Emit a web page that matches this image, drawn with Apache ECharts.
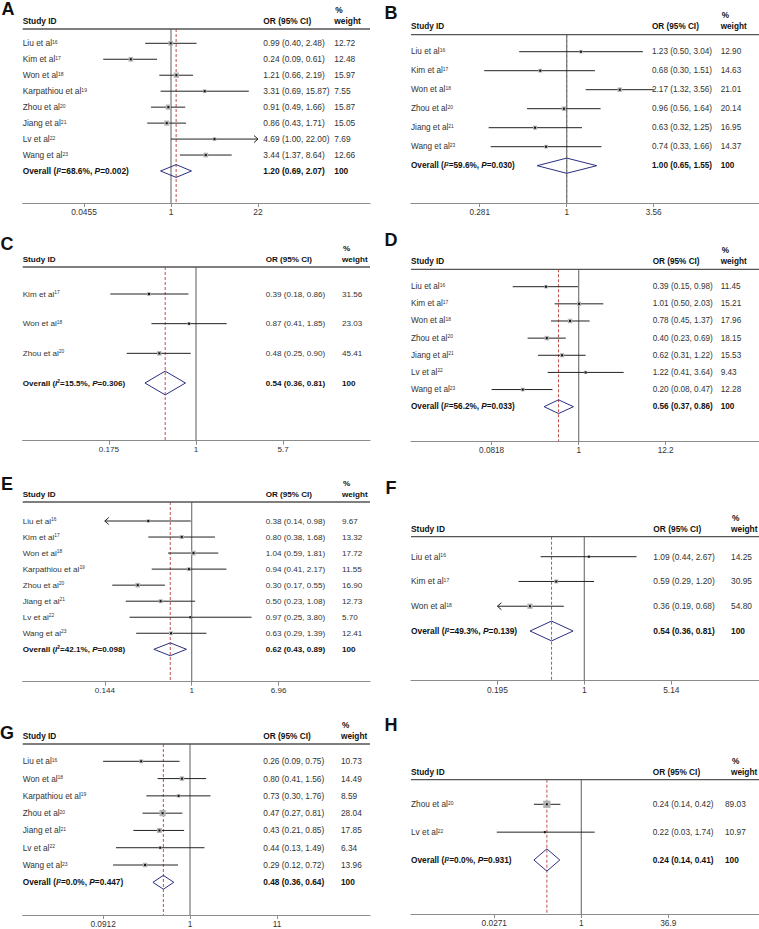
<!DOCTYPE html>
<html><head><meta charset="utf-8">
<script src="https://cdn.jsdelivr.net/npm/echarts@6/dist/echarts.min.js"></script>
<style>html,body{margin:0;padding:0;background:#fff}#c{width:759px;height:929px}</style>
</head><body><div id="c"></div>
<script>
// ---------- DATA ----------
const studyNames = ['Liu et al','Kim et al','Won et al','Karpathiou et al','Zhou et al','Jiang et al','Lv et al','Wang et al'];
const studyRefs = ['16','17','18','19','20','21','22','23'];

// Panel A
const aStudies = [0,1,2,3,4,5,6,7];
const aOR   = [0.99,0.24,1.21,3.31,0.91,0.86,4.69,3.44];
const aLow  = [0.40,0.09,0.66,0.69,0.49,0.43,1.00,1.37];
const aHigh = [2.48,0.61,2.19,15.87,1.66,1.71,22.00,8.64];
const aWeight = [12.72,12.48,15.97,7.55,15.87,15.05,7.69,12.66];
const aOverall = [1.20,0.69,2.07];
const aHet = ['68.6%','0.002'];
const aTicks = [0.0455,1,22];
const aArrows = [[6,'R']];

// Panel B
const bStudies = [0,1,2,4,5,7];
const bOR   = [1.23,0.68,2.17,0.96,0.63,0.74];
const bLow  = [0.50,0.30,1.32,0.56,0.32,0.33];
const bHigh = [3.04,1.51,3.56,1.64,1.25,1.66];
const bWeight = [12.90,14.63,21.01,20.14,16.95,14.37];
const bOverall = [1.00,0.65,1.55];
const bHet = ['59.6%','0.030'];
const bTicks = [0.281,1,3.56];
const bArrows = [];

// Panel C
const cStudies = [1,2,4];
const cOR   = [0.39,0.87,0.48];
const cLow  = [0.18,0.41,0.25];
const cHigh = [0.86,1.85,0.90];
const cWeight = [31.56,23.03,45.41];
const cOverall = [0.54,0.36,0.81];
const cHet = ['15.5%','0.306'];
const cTicks = [0.175,1,5.7];
const cArrows = [];

// Panel D
const dStudies = [0,1,2,4,5,6,7];
const dOR   = [0.39,1.01,0.78,0.40,0.62,1.22,0.20];
const dLow  = [0.15,0.50,0.45,0.23,0.31,0.41,0.08];
const dHigh = [0.98,2.03,1.37,0.69,1.22,3.64,0.47];
const dWeight = [11.45,15.21,17.96,18.15,15.53,9.43,12.28];
const dOverall = [0.56,0.37,0.86];
const dHet = ['56.2%','0.033'];
const dTicks = [0.0818,1,12.2];
const dArrows = [];

// Panel E
const eStudies = [0,1,2,3,4,5,6,7];
const eOR   = [0.38,0.80,1.04,0.94,0.30,0.50,0.97,0.63];
const eLow  = [0.14,0.38,0.59,0.41,0.17,0.23,0.25,0.29];
const eHigh = [0.98,1.68,1.81,2.17,0.55,1.08,3.80,1.39];
const eWeight = [9.67,13.32,17.72,11.55,16.90,12.73,5.70,12.41];
const eOverall = [0.62,0.43,0.89];
const eHet = ['42.1%','0.098'];
const eTicks = [0.144,1,6.96];
const eArrows = [[0,'L']];

// Panel F
const fStudies = [0,1,2];
const fOR   = [1.09,0.59,0.36];
const fLow  = [0.44,0.29,0.19];
const fHigh = [2.67,1.20,0.68];
const fWeight = [14.25,30.95,54.80];
const fOverall = [0.54,0.36,0.81];
const fHet = ['49.3%','0.139'];
const fTicks = [0.195,1,5.14];
const fArrows = [[2,'L']];

// Panel G
const gStudies = [0,2,3,4,5,6,7];
const gOR   = [0.26,0.80,0.73,0.47,0.43,0.44,0.29];
const gLow  = [0.09,0.41,0.30,0.27,0.21,0.13,0.12];
const gHigh = [0.75,1.56,1.76,0.81,0.85,1.49,0.72];
const gWeight = [10.73,14.49,8.59,28.04,17.85,6.34,13.96];
const gOverall = [0.48,0.36,0.64];
const gHet = ['0.0%','0.447'];
const gTicks = [0.0912,1,11];
const gArrows = [];

// Panel H
const hStudies = [4,6];
const hOR   = [0.24,0.22];
const hLow  = [0.14,0.03];
const hHigh = [0.42,1.74];
const hWeight = [89.03,10.97];
const hOverall = [0.24,0.14,0.41];
const hHet = ['0.0%','0.931'];
const hTicks = [0.0271,1,36.9];
const hArrows = [];

const panelLetters = ['A','B','C','D','E','F','G','H'];

// ---------- LAYOUT (pixels) ----------
// [headerLineY, firstRowY, overallRowY, axisY]
const layoutY = [[29,43.3,171,203],[34.7,51.7,165.7,203],[267,294,383,440.7],[269.3,286.7,406.7,441],
                 [502,521,649.3,681.7],[536.7,556.7,631,680.7],[744,761.3,882.3,915],[779.7,804.3,860,914]];
// [left, right, x of OR=1, OR column x, weight column x, weight header x]
const layoutX = [[22.7,370,171,263.3,334.3,334.3],[411,759,566.7,652,720.7,720.7],
                 [22.7,370,196,265.7,342,342],[411,759,578.7,652.7,720.7,720.7],
                 [22.7,370,191.7,265.7,342,342],[411,759,584.3,653.3,731,731],
                 [22.7,370,190,263.3,341,341],[411,759,581.3,652.7,725,731]];
const fontSizes = [8.4,8.2,8.1,8.2,8.1,8.4,8.3,8.3];
const boxMax = [5.3,4.5,4.5,4.5,4.7,5.3,6.3,7.3];
const letterPos = [[8,9],[391,12.5],[7,244],[391,240],[7,484],[391,488],[7,733],[391,725]];
const TICK_HALF = 87;

const FONT = '"Liberation Sans", Arial, Helvetica, sans-serif';
const TXT = '#333';

const panels = [
  {studies:aStudies, or:aOR, low:aLow, high:aHigh, w:aWeight, ov:aOverall, het:aHet, ticks:aTicks, arrows:aArrows},
  {studies:bStudies, or:bOR, low:bLow, high:bHigh, w:bWeight, ov:bOverall, het:bHet, ticks:bTicks, arrows:bArrows},
  {studies:cStudies, or:cOR, low:cLow, high:cHigh, w:cWeight, ov:cOverall, het:cHet, ticks:cTicks, arrows:cArrows},
  {studies:dStudies, or:dOR, low:dLow, high:dHigh, w:dWeight, ov:dOverall, het:dHet, ticks:dTicks, arrows:dArrows},
  {studies:eStudies, or:eOR, low:eLow, high:eHigh, w:eWeight, ov:eOverall, het:eHet, ticks:eTicks, arrows:eArrows},
  {studies:fStudies, or:fOR, low:fLow, high:fHigh, w:fWeight, ov:fOverall, het:fHet, ticks:fTicks, arrows:fArrows},
  {studies:gStudies, or:gOR, low:gLow, high:gHigh, w:gWeight, ov:gOverall, het:gHet, ticks:gTicks, arrows:gArrows},
  {studies:hStudies, or:hOR, low:hLow, high:hHigh, w:hWeight, ov:hOverall, het:hHet, ticks:hTicks, arrows:hArrows}
];

const L10 = Math.log10;
const f2 = v => v.toFixed(2);

const grids = [], xAxes = [], yAxes = [], series = [], graphics = [];

panels.forEach((p, k) => {
  const [hY, fY, oY, aY] = layoutY[k];
  const [left, right, x1, orX, wX, wHX] = layoutX[k];
  const fs = fontSizes[k];
  const N = p.studies.length;
  const step = (oY - fY) / N;
  const yMin = 1 - (fY - hY) / step;
  const yMax = N + 1 + (aY - oY) / step;
  const tMin = L10(p.ticks[0]), tMax = L10(p.ticks[2]);
  const ppd = TICK_HALF / tMax;
  const xMin = (left - x1) / ppd, xMax = (right - x1) / ppd;
  const wMax = Math.max(...p.w);
  const tickVals = p.ticks.map(L10);

  grids.push({left: left, top: hY, width: right - left, height: aY - hY, containLabel: false});
  xAxes.push({
    gridIndex: k, type: 'value', min: xMin, max: xMax,
    axisLine: {onZero: false, lineStyle: {color: '#8c8c8c', width: 1.2}},
    axisTick: {customValues: tickVals, length: 4, lineStyle: {color: '#8c8c8c', width: 1}},
    axisLabel: {customValues: tickVals, fontSize: fs, fontFamily: FONT, color: TXT, margin: 5,
      formatter: v => { let bi = 0; tickVals.forEach((t, i) => { if (Math.abs(t - v) < Math.abs(tickVals[bi] - v)) bi = i; }); return String(p.ticks[bi]); }},
    splitLine: {show: false}
  });
  yAxes.push({gridIndex: k, type: 'value', inverse: true, min: yMin, max: yMax, show: false,
    axisLine: {onZero: false}, splitLine: {show: false}});

  const richBase = {
    n: {fontSize: fs, fontFamily: FONT, fill: TXT},
    s: {fontSize: fs * 0.6, fontFamily: FONT, fill: TXT, verticalAlign: 'top'},
    b: {fontSize: fs, fontFamily: FONT, fill: '#111', fontWeight: 'bold'},
    bi: {fontSize: fs, fontFamily: FONT, fill: '#111', fontWeight: 'bold', fontStyle: 'italic'},
    bs: {fontSize: fs * 0.6, fontFamily: FONT, fill: '#111', fontWeight: 'bold', verticalAlign: 'top'}
  };
  const txt = (x, y, text, extra) => ({type: 'text', x: x, y: y,
    style: Object.assign({text: text, fontSize: fs, fontFamily: FONT, fill: TXT, align: 'left', verticalAlign: 'middle'}, extra || {})});

  // frame: header line, reference lines, column headers
  series.push({
    type: 'custom', xAxisIndex: k, yAxisIndex: k, silent: true, z: 1,
    data: [[0, yMin]], encode: {x: 0, y: 1},
    renderItem: (params, api) => {
      const cs = params.coordSys;
      const top = cs.y, bot = cs.y + cs.height;
      const xOne = api.coord([0, yMin])[0];
      const xOv = api.coord([L10(p.ov[0]), yMin])[0];
      const hb = {fontWeight: 'bold', fill: '#111'};
      return {type: 'group', children: [
        {type: 'line', shape: {x1: xOv, y1: top, x2: xOv, y2: bot}, style: {stroke: '#c0504d', lineWidth: 1, lineDash: [3, 2]}},
        {type: 'line', shape: {x1: xOne, y1: top, x2: xOne, y2: bot}, style: {stroke: '#777', lineWidth: 1.2}},
        {type: 'line', shape: {x1: cs.x, y1: top, x2: cs.x + cs.width, y2: top}, style: {stroke: '#555', lineWidth: 1.3}},
        txt(cs.x, top - 8, 'Study ID', hb),
        txt(orX, top - 8, 'OR (95% CI)', hb),
        txt(wHX, top - 8, 'weight', hb),
        txt(wHX + 1, top - 19, '%', hb)
      ]};
    }
  });

  // study rows
  const rows = p.studies.map((s, i) => [L10(p.or[i]), i + 1, L10(p.low[i]), L10(p.high[i]), p.w[i]]);
  series.push({
    type: 'custom', xAxisIndex: k, yAxisIndex: k, silent: true, z: 3,
    data: rows, encode: {x: 0, y: 1},
    renderItem: (params, api) => {
      const i = params.dataIndex;
      const row = api.value(1);
      const lo = Math.max(api.value(2), tMin), hi = Math.min(api.value(3), tMax);
      const pl = api.coord([lo, row]), ph = api.coord([hi, row]), pc = api.coord([api.value(0), row]);
      const y = pc[1];
      const ch = [];
      ch.push({type: 'line', shape: {x1: pl[0], y1: y, x2: ph[0], y2: y}, style: {stroke: '#222', lineWidth: 1}});
      p.arrows.forEach(a => {
        if (a[0] !== i) return;
        const x = a[1] === 'R' ? ph[0] : pl[0];
        const d = a[1] === 'R' ? -4 : 4;
        ch.push({type: 'polyline', shape: {points: [[x + d, y - 3.5], [x, y], [x + d, y + 3.5]]}, style: {stroke: '#222', lineWidth: 1, fill: null}});
      });
      const side = Math.max(1.5, boxMax[k] * Math.sqrt(api.value(4) / wMax));
      ch.push({type: 'rect', shape: {x: pc[0] - side / 2, y: y - side / 2, width: side, height: side}, style: {fill: '#b4b4b4'}});
      ch.push({type: 'rect', shape: {x: pc[0] - 1, y: y - 1, width: 2, height: 2}, style: {fill: '#111'}});
      const sIdx = p.studies[i];
      ch.push(txt(left, y, '{n|' + studyNames[sIdx] + '}{s|' + studyRefs[sIdx] + '}', {rich: richBase}));
      ch.push(txt(orX, y, f2(p.or[i]) + ' (' + f2(p.low[i]) + ', ' + f2(p.high[i]) + ')'));
      ch.push(txt(wX, y, f2(p.w[i])));
      return {type: 'group', children: ch};
    }
  });

  // overall row
  series.push({
    type: 'custom', xAxisIndex: k, yAxisIndex: k, silent: true, z: 3,
    data: [[L10(p.ov[0]), N + 1, L10(p.ov[1]), L10(p.ov[2])]], encode: {x: 0, y: 1},
    renderItem: (params, api) => {
      const row = api.value(1);
      const pc = api.coord([api.value(0), row]);
      const pt = api.coord([api.value(0), row - 0.4]);
      const pb = api.coord([api.value(0), row + 0.4]);
      const pl = api.coord([api.value(2), row]);
      const ph = api.coord([api.value(3), row]);
      const y = pc[1];
      const hb = {fontWeight: 'bold', fill: '#111'};
      return {type: 'group', children: [
        {type: 'polygon', shape: {points: [pl, pt, ph, pb]}, style: {stroke: '#2b2f80', lineWidth: 1, fill: null}},
        txt(left, y, '{b|Overall (}{bi|I}{bs|2}{b|=' + p.het[0] + ', }{bi|P}{b|=' + p.het[1] + ')}', {rich: richBase}),
        txt(orX, y, f2(p.ov[0]) + ' (' + f2(p.ov[1]) + ', ' + f2(p.ov[2]) + ')', hb),
        txt(wX, y, '100', hb)
      ]};
    }
  });

  graphics.push({type: 'text', x: letterPos[k][0], y: letterPos[k][1], silent: true,
    style: {text: panelLetters[k], font: 'bold 18px ' + FONT, fill: '#111', align: 'center', verticalAlign: 'middle'}});
});

const chart = echarts.init(document.getElementById('c'), null, {renderer: 'svg', width: 759, height: 929});
chart.setOption({
  animation: false,
  backgroundColor: '#fff',
  grid: grids, xAxis: xAxes, yAxis: yAxes, series: series, graphic: graphics
});
</script></body></html>
